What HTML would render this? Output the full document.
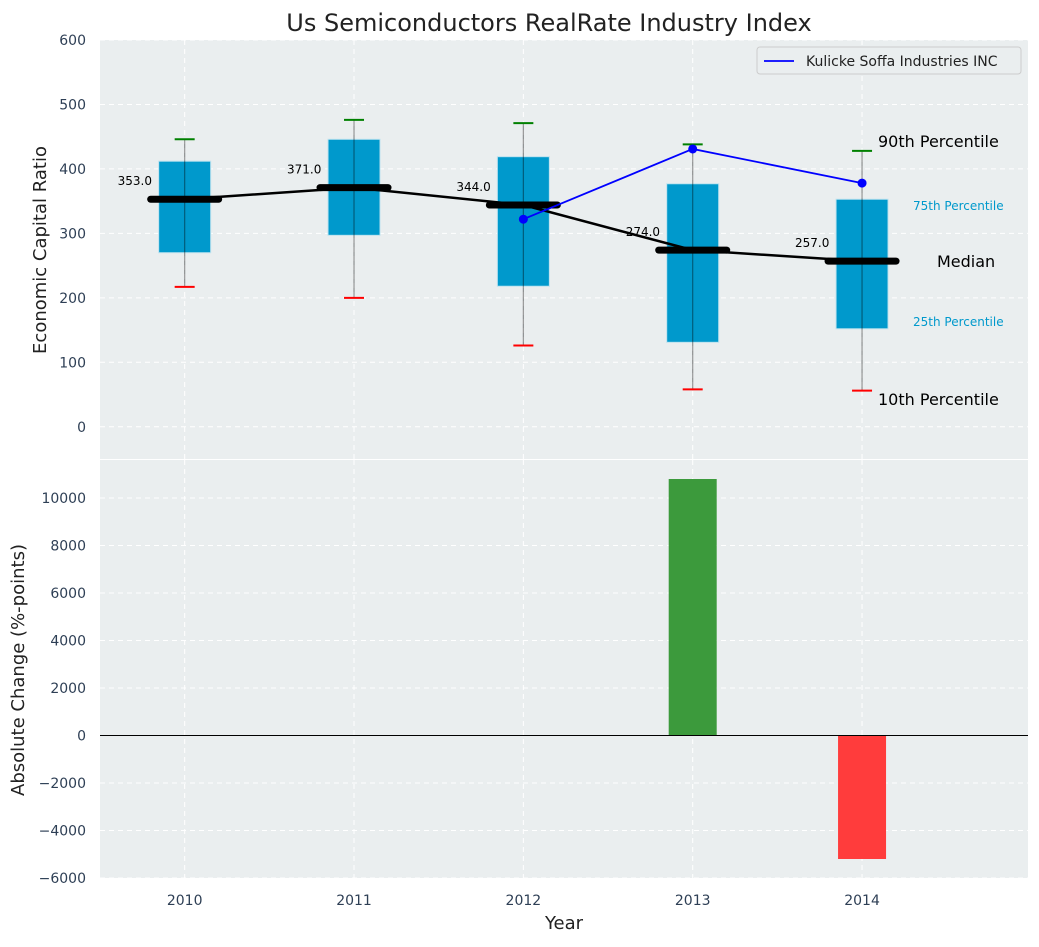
<!DOCTYPE html>
<html><head><meta charset="utf-8"><style>
body{margin:0;background:#fff;font-family:"Liberation Sans",sans-serif;}
svg text{font-family:"DejaVu Sans","Liberation Sans",sans-serif;}
</style></head><body>
<svg id="c" width="1039" height="942" xmlns="http://www.w3.org/2000/svg"></svg>
<script>
const years=[2010,2011,2012,2013,2014];
const p10=[217,200,126,58,56];
const q1=[270,297,218,131,152];
const med=[353,371,344,274,257];
const q3=[412,446,419,377,353];
const p90=[446,476,471,438,428];
const coYears=[2012,2013,2014];
const coVals=[322,431,378];
const changes=[0,0,0,10800,-5200];
const topTicks=[0,100,200,300,400,500,600];
const botTicks=[-6000,-4000,-2000,0,2000,4000,6000,8000,10000];

const S=document.getElementById('c');const NS='http://www.w3.org/2000/svg';
function el(t,a,txt){const e=document.createElementNS(NS,t);for(const k in a)e.setAttribute(k,a[k]);if(txt!==undefined)e.textContent=txt;S.appendChild(e);return e;}
const L=100,R=1028;
const X=v=>L+(v-2009.5)/(2014.98-2009.5)*(R-L);
const Y1=v=>40+(600-v)/650*419;
const Y2=v=>460+(11600-v)/17600*418;
const tc='#2e3f55';
let e=el('rect',{x:L,y:40,width:R-L,height:419,fill:'#eaeeef'});

e=el('rect',{x:L,y:460,width:R-L,height:418,fill:'#eaeeef'});

topTicks.forEach(t=>{el('line',{x1:L,x2:R,y1:Y1(t),y2:Y1(t),stroke:'#fff','stroke-dasharray':'5,4'});
 e=el('text',{x:86,y:Y1(t)+5,'text-anchor':'end','font-size':14,fill:tc},t);
 });
botTicks.forEach(t=>{el('line',{x1:L,x2:R,y1:Y2(t),y2:Y2(t),stroke:'#fff','stroke-dasharray':'5,4'});
 e=el('text',{x:86,y:Y2(t)+5,'text-anchor':'end','font-size':14,fill:tc},(t<0?'−'+(-t):t));
 });
years.forEach(y=>{el('line',{x1:X(y),x2:X(y),y1:40,y2:459,stroke:'#fff','stroke-dasharray':'5,4'});
 el('line',{x1:X(y),x2:X(y),y1:460,y2:878,stroke:'#fff','stroke-dasharray':'5,4'});
 e=el('text',{x:X(y),y:905,'text-anchor':'middle','font-size':14,fill:tc},y);
 });
const bw=52;
years.forEach((y,i)=>{const x=X(y);
 e=el('rect',{x:x-bw/2,y:Y1(q3[i]),width:bw,height:Y1(q1[i])-Y1(q3[i]),fill:'#0099cc',stroke:'#bfe3ef','stroke-width':1});
 
 el('line',{x1:x,x2:x,y1:Y1(p10[i]),y2:Y1(p90[i]),stroke:'#000','stroke-opacity':0.4,'stroke-width':1.2});
 e=el('line',{x1:x-10,x2:x+10,y1:Y1(p90[i]),y2:Y1(p90[i]),stroke:'green','stroke-width':2});
 
 e=el('line',{x1:x-10,x2:x+10,y1:Y1(p10[i]),y2:Y1(p10[i]),stroke:'red','stroke-width':2});
 
});
e=el('polyline',{points:years.map((y,i)=>X(y)+','+Y1(med[i])).join(' '),fill:'none',stroke:'#000','stroke-width':2.5});

years.forEach((y,i)=>{const x=X(y);
 e=el('line',{x1:x-34,x2:x+34,y1:Y1(med[i]),y2:Y1(med[i]),stroke:'#000','stroke-width':7,'stroke-linecap':'round'});
 
 e=el('text',{x:x-67,y:Y1(med[i])-14,'text-anchor':'start','font-size':12,fill:'#000'},med[i].toFixed(1));
 
});
e=el('polyline',{points:coYears.map((y,i)=>X(y)+','+Y1(coVals[i])).join(' '),fill:'none',stroke:'blue','stroke-width':1.8});

coYears.forEach((y,i)=>{e=el('circle',{cx:X(y),cy:Y1(coVals[i]),r:4.5,fill:'blue'});
 });
const ann=[[878,147,'90th Percentile',16,'#000'],[913,210,'75th Percentile',12,'#0099cc'],[937,267,'Median',16,'#000'],[913,326,'25th Percentile',12,'#0099cc'],[878,405,'10th Percentile',16,'#000']];
ann.forEach(a=>{e=el('text',{x:a[0],y:a[1],'font-size':a[3],fill:a[4]},a[2]);
 });
e=el('rect',{x:757,y:47,width:264,height:27,fill:'#eaeeef',stroke:'#ccc',rx:3});

el('line',{x1:764,x2:794,y1:61,y2:61,stroke:'blue','stroke-width':1.8});
e=el('text',{x:806,y:66,'font-size':14,fill:'#222'},'Kulicke Soffa Industries INC');

const barW=48;
years.forEach((y,i)=>{if(!changes[i])return;const v=changes[i];
 e=el('rect',{x:X(y)-barW/2,y:Math.min(Y2(v),Y2(0)),width:barW,height:Math.abs(Y2(v)-Y2(0)),fill:v>0?'#3c9a3c':'#ff3c3c'});
 });
el('line',{x1:L,x2:R,y1:Y2(0),y2:Y2(0),stroke:'#000','stroke-width':1});
e=el('text',{x:549,y:31,'text-anchor':'middle','font-size':24,fill:'#222'},'Us Semiconductors RealRate Industry Index');

e=el('text',{x:46,y:250,'text-anchor':'middle','font-size':18,fill:'#222',transform:'rotate(-90 46 250)'},'Economic Capital Ratio');

e=el('text',{x:24,y:670,'text-anchor':'middle','font-size':18,fill:'#222',transform:'rotate(-90 24 670)'},'Absolute Change (%-points)');

e=el('text',{x:564,y:929,'text-anchor':'middle','font-size':18,fill:'#222'},'Year');

</script>
</body></html>
